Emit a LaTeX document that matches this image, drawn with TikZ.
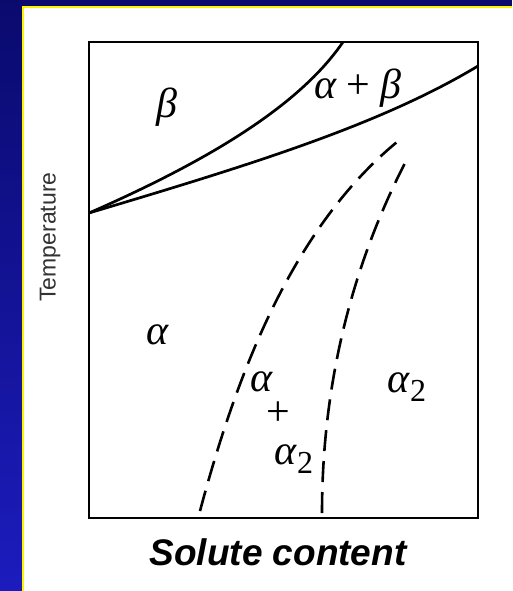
\documentclass[tikz,border=0pt]{standalone}
\usepackage{fontspec}
\setsansfont{Liberation Sans}
\newfontfamily\greekfont{Liberation Serif}
\definecolor{slidenavy}{RGB}{10,10,110}
\definecolor{slideblue}{RGB}{28,28,190}
\newcommand{\lowtwo}{\raisebox{-9pt}{\fontsize{32}{32}\selectfont\upshape 2}}

\begin{document}
\begin{tikzpicture}[
  x=1pt, y=-1pt,
  frame/.style={line width=2.2pt, black},
  boundary/.style={line width=2.7pt, black},
  solvus/.style={line width=2.6pt, black, dash pattern=on 21pt off 10pt},
  phase/.style={font=\fontsize{42}{42}\selectfont\greekfont\itshape, inner sep=0pt},
  axislabel/.style={font=\sffamily\fontsize{23}{23}\selectfont, text=black!80, inner sep=0pt}
]
\useasboundingbox (0,0) rectangle (512,591);

% slide background
\fill[slidenavy] (0,0) rectangle (512,7);
\shade[top color=slidenavy, bottom color=slideblue] (0,0) rectangle (23,591);
\fill[white] (23,7) rectangle (512,591);
\draw[yellow, line width=1.5pt] (23,591) -- (23,7) -- (512,7);

% diagram frame
\draw[frame] (89,42) rectangle (478,518);

% phase boundaries
\coordinate (tp) at (89,213);
\draw[boundary] (tp) .. controls (210,160) and (300,105) .. (343,42);
\draw[boundary] (tp) .. controls (250,165) and (380,125) .. (478,66);

% ordering lines
\draw[solvus] (200,511) .. controls (235,380) and (290,230) .. (397,142);
\draw[solvus] (322,513) .. controls (322,400) and (345,280) .. (405,163);

% labels
\node[phase] (beta)   at (167,107) {β};
\node[phase] (ab)     at (358,88)  {α \upshape{+} \itshape β};
\node[phase] (alpha)  at (158,335) {α};
\node[phase] (mixa)   at (262,382) {α};
\node[phase] (plus)   at (278,414) {\upshape +};
\node[phase] (mixb)   at (294,459) {α\lowtwo};
\node[phase] (alpha2) at (407,387) {α\lowtwo};

\node[axislabel, rotate=90] (temp) at (50,237) {Temperature};
\node[font=\sffamily\bfseries\itshape\fontsize{37}{37}\selectfont, inner sep=0pt] (solute) at (278,552) {Solute content};
\end{tikzpicture}
\end{document}
